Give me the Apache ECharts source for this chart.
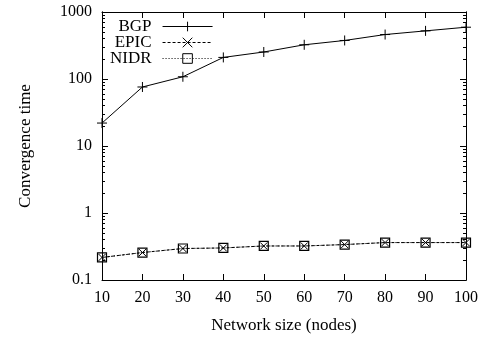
<!DOCTYPE html>
<html><head><meta charset="utf-8">
<script src="https://cdn.jsdelivr.net/npm/echarts@6/dist/echarts.min.js"></script>
<style>html,body{margin:0;padding:0;background:#fff}#c{width:487px;height:339px}</style>
</head><body><div id="c"></div>
<script>
const xs = [10, 20, 30, 40, 50, 60, 70, 80, 90, 100];
const bgp = [22, 76, 108, 210, 253, 324, 376, 461, 523, 593];
const epic = [0.217, 0.257, 0.295, 0.301, 0.322, 0.322, 0.338, 0.362, 0.362, 0.362];
const nidr = [0.217, 0.257, 0.295, 0.301, 0.322, 0.322, 0.338, 0.362, 0.362, 0.362];
const yMajor = [0.1, 1, 10, 100, 1000];
const yMinor = [0.2,0.3,0.4,0.5,0.6,0.7,0.8,0.9,2,3,4,5,6,7,8,9,20,30,40,50,60,70,80,90,200,300,400,500,600,700,800,900];
const xTitle = 'Network size (nodes)';
const yTitle = 'Convergence time';

const FONT = 'Liberation Serif';
const chart = echarts.init(document.getElementById('c'), null, {renderer: 'canvas'});
const pair = a => xs.map((x, i) => [x, a[i]]);
const lineAxis = {show: true, lineStyle: {color: '#000', width: 1}};
function yAx(pos, minor, labels) {
  return {
    type: 'log', logBase: 10, min: 0.1, max: 1000, position: pos,
    axisLine: lineAxis,
    axisTick: {show: true, inside: true, length: minor ? 3 : 6, lineStyle: {color: '#000'},
               customValues: minor ? yMinor : yMajor},
    axisLabel: labels ? {show: true, customValues: yMajor, fontFamily: FONT, fontSize: 16, color: '#000', margin: 10,
               formatter: v => String(+(+v).toPrecision(3))} : {show: false},
    splitLine: {show: false},
    name: labels ? yTitle : '', nameLocation: 'middle', nameGap: 68,
    nameTextStyle: {fontFamily: FONT, fontSize: 17, color: '#000'}
  };
}
const option = {
  animation: false,
  backgroundColor: '#fff',
  grid: {left: 102, right: 21, top: 12, bottom: 57, containLabel: false},
  legend: {
    orient: 'vertical', left: 105, top: 13, align: 'right',
    itemWidth: 50, itemHeight: 12, itemGap: -1,
    lineStyle: {width: 1},
    itemStyle: {borderWidth: 1},
    textStyle: {fontFamily: FONT, fontSize: 17, color: '#000', padding: [0, 6, 0, 0]},
    data: ['BGP', 'EPIC', 'NIDR']
  },
  xAxis: [
    {type: 'value', min: 10, max: 100, interval: 10, position: 'bottom',
     axisLine: lineAxis, axisTick: {show: true, inside: true, length: 6, lineStyle: {color: '#000'}},
     axisLabel: {fontFamily: FONT, fontSize: 16, color: '#000', margin: 10},
     splitLine: {show: false},
     name: xTitle, nameLocation: 'middle', nameGap: 37,
     nameTextStyle: {fontFamily: FONT, fontSize: 17, color: '#000'}},
    {type: 'value', min: 10, max: 100, interval: 10, position: 'top',
     axisLine: lineAxis, axisTick: {show: true, inside: true, length: 6, lineStyle: {color: '#000'}},
     axisLabel: {show: false}, splitLine: {show: false}}
  ],
  yAxis: [yAx('left', false, true), yAx('left', true, false), yAx('right', false, false), yAx('right', true, false)],
  series: [
    {name: 'BGP', type: 'line', data: pair(bgp), symbol: 'path://M0,5L10,5M5,0L5,10', symbolSize: 10,
     clip: false, lineStyle: {color: '#000', width: 1, type: 'solid'},
     itemStyle: {color: '#000', borderColor: '#000', borderWidth: 1}},
    {name: 'EPIC', type: 'line', data: pair(epic), symbol: 'path://M0,0L10,10M0,10L10,0', symbolSize: 7,
     clip: false, lineStyle: {color: '#000', width: 1, type: [3, 2]},
     itemStyle: {color: '#000', borderColor: '#000', borderWidth: 1}},
    {name: 'NIDR', type: 'line', data: pair(nidr), symbol: 'rect', symbolSize: 9,
     clip: false, lineStyle: {color: '#000', width: 1, type: [1, 2]},
     itemStyle: {color: 'rgba(0,0,0,0)', borderColor: '#000', borderWidth: 1.2}}
  ]
};
chart.setOption(option);
</script></body></html>
